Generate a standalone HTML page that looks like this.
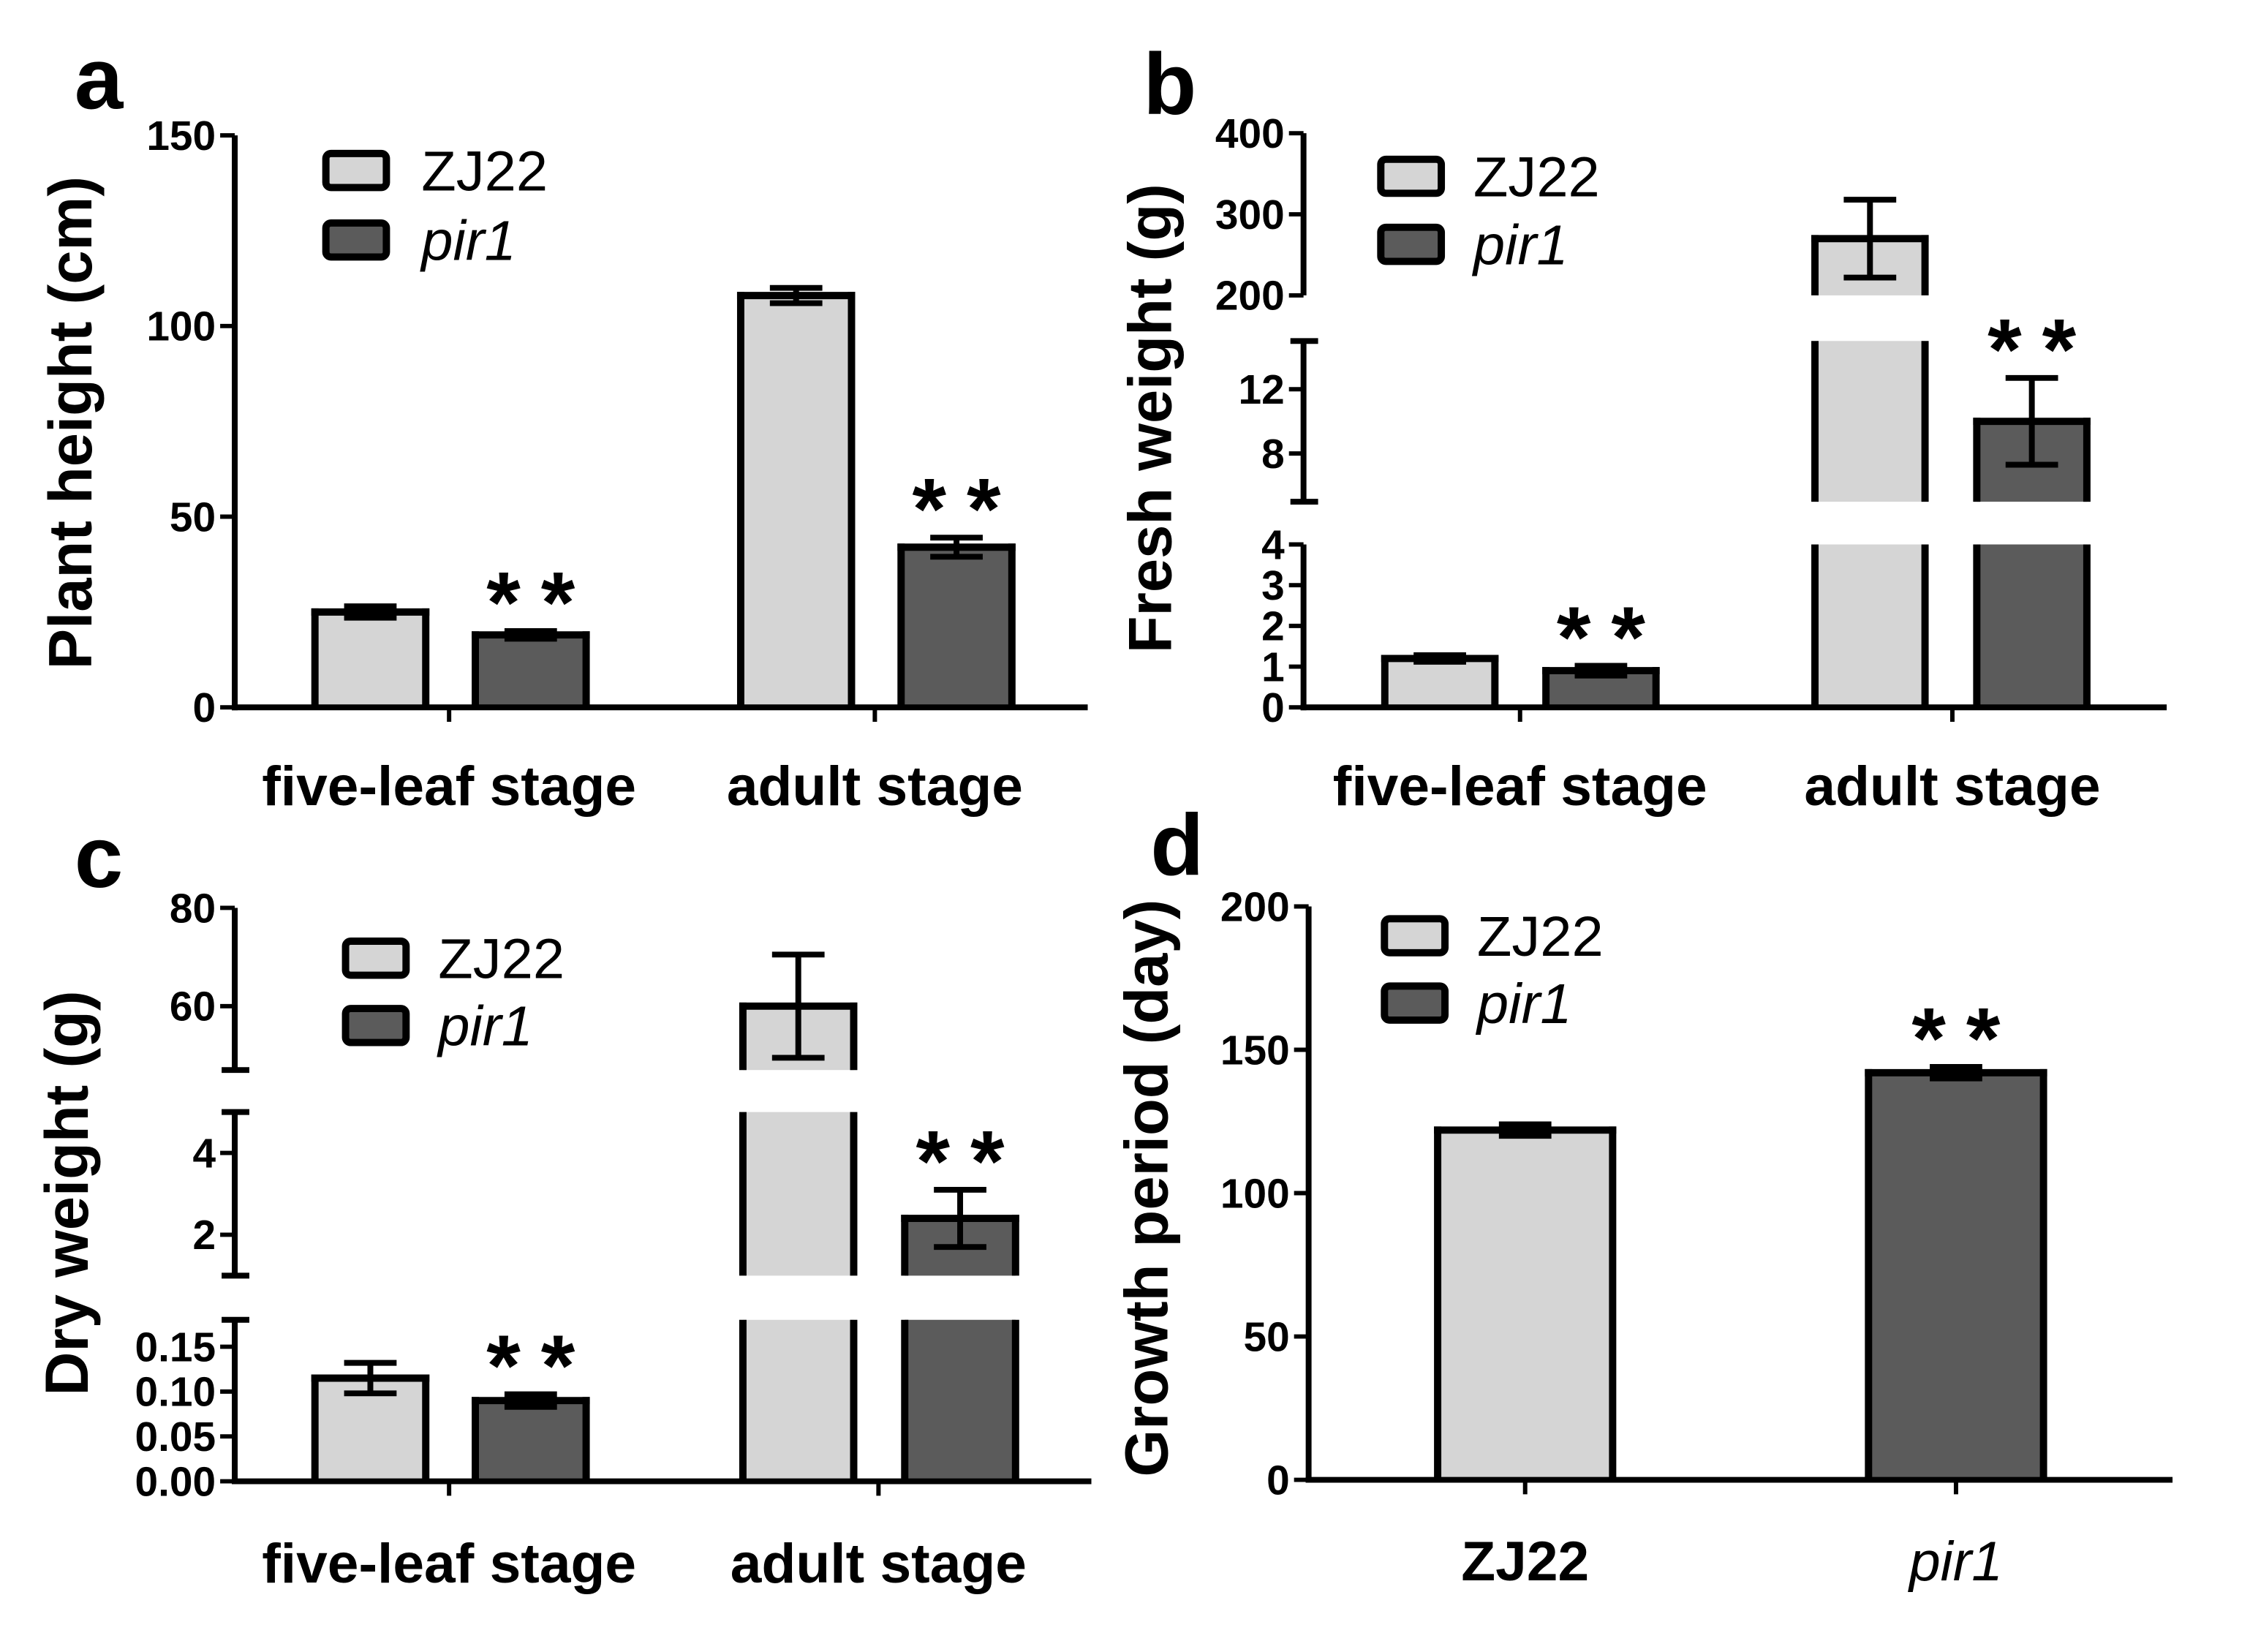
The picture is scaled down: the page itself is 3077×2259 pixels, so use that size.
<!DOCTYPE html>
<html><head><meta charset="utf-8"><style>
html,body{margin:0;padding:0;background:#fff;}
svg{display:block;font-family:"Liberation Sans",Arial,sans-serif;}
</style></head><body>
<svg id="fig" width="3077" height="2259" viewBox="0 0 3077 2259" xmlns="http://www.w3.org/2000/svg"><g id="root" transform="scale(0.997,0.99)"></g></svg>
<script>
// ---- data ----
const catsStage = ["five-leaf stage", "adult stage"];
const catsGeno = ["ZJ22", "pir1"];
const seriesNames = ["ZJ22", "pir1"];
// panel a: plant height (cm)
const aZJ22 = [25, 108];
const aPir1 = [19, 42];
const aZJ22Err = [1.5, 2];
const aPir1Err = [1, 2.5];
const aTicks = [0, 50, 100, 150];
const aTickLabels = ["0", "50", "100", "150"];
// panel b: fresh weight (g)
const bZJ22 = [1.2, 270];
const bPir1 = [0.9, 10];
const bZJ22Err = [0.08, 48];
const bPir1Err = [0.12, 2.7];
const bTicks = [0, 1, 2, 3, 4, 8, 12, 200, 300, 400];
const bTickLabels = ["0", "1", "2", "3", "4", "8", "12", "200", "300", "400"];
// panel c: dry weight (g)
const cZJ22 = [0.115, 60];
const cPir1 = [0.09, 2.4];
const cZJ22Err = [0.017, 10.5];
const cPir1Err = [0.007, 0.7];
const cTicks = [0, 0.05, 0.10, 0.15, 2, 4, 60, 80];
const cTickLabels = ["0.00", "0.05", "0.10", "0.15", "2", "4", "60", "80"];
// panel d: growth period (day)
const dValues = [122, 142];
const dErr = [2, 2];
const dTicks = [0, 50, 100, 150, 200];
const dTickLabels = ["0", "50", "100", "150", "200"];
// significance flags
const aSig = [false, true, false, true];
const dSig = [false, true];

const NS = "http://www.w3.org/2000/svg";
const svg = document.getElementById("root");
const LIGHT = "#d5d5d5", DARK = "#5b5b5b";

function mk(tag, attrs, parent) {
  const e = document.createElementNS(NS, tag);
  for (const k in attrs) e.setAttribute(k, attrs[k]);
  (parent || svg).appendChild(e);
  return e;
}
function line(g, x1, y1, x2, y2, w) {
  return mk("line", {x1, y1, x2, y2, stroke: "#000", "stroke-width": w}, g);
}
function ctext(g, str, x, y, size, opts) {
  opts = opts || {};
  const t = mk("text", {
    x: 0, y: 0, "font-size": size,
    "font-weight": opts.bold ? "bold" : "normal",
    "font-style": opts.italic ? "italic" : "normal",
    "text-anchor": opts.anchor || "start",
    transform: `translate(${x},${y})` + (opts.rot ? ` rotate(${opts.rot})` : "")
  }, g);
  if (opts.ls) t.setAttribute("letter-spacing", opts.ls);
  if (opts.db) t.setAttribute("dominant-baseline", opts.db);
  t.textContent = str;
  return t;
}

function makeY(segs) {
  return function (v) {
    for (const s of segs) {
      if (v >= s.lo - 1e-9 && v <= s.hi + 1e-9) return s.y0 + (v - s.lo) / (s.hi - s.lo) * (s.y1 - s.y0);
    }
    const s = v < segs[0].lo ? segs[0] : segs[segs.length - 1];
    return s.y0 + (v - s.lo) / (s.hi - s.lo) * (s.y1 - s.y0);
  };
}

function panel(p) {
  const g = mk("g", {});
  
  
  const y = makeY(p.segs);
  p.bars.forEach((b, i) => {
    const bg = mk("g", {}, g);
    
    
    const xl = b.cx - p.bw / 2, xr = b.cx + p.bw / 2;
    p.segs.forEach(s => {
      if (b.v <= s.lo) return;
      const top = Math.min(b.v, s.hi);
      const yb = y(s.lo), yt = y(top);
      mk("rect", {x: xl, y: yt, width: p.bw, height: yb - yt, fill: b.fill}, bg);
      line(bg, xl, yb, xl, yt - (b.v <= s.hi ? 5 : 0), 10);
      line(bg, xr, yb, xr, yt - (b.v <= s.hi ? 5 : 0), 10);
      if (b.v <= s.hi) line(bg, xl - 5, yt, xr + 5, yt, 10);
    });
    const eg = mk("g", {}, g);
    
    
    const yt = y(b.v + b.e), ybt = y(b.v - b.e);
    line(eg, b.cx, yt, b.cx, ybt, 8);
    line(eg, b.cx - 36, yt, b.cx + 36, yt, 8);
    line(eg, b.cx - 36, ybt, b.cx + 36, ybt, 8);
    if (b.sig) {
      const st = ctext(g, "**", b.cx + 14, yt + 2, 120, {bold: true, anchor: "middle", ls: 28});
      
      
    }
  });
  const ax = mk("g", {}, g);
  
  
  p.segs.forEach((s, si) => {
    const yb = y(s.lo), yt = y(s.hi);
    line(ax, p.ax, yb + (si === 0 ? 4 : 0), p.ax, yt, 8);
    if (si > 0 && !p.ticks.includes(s.lo)) line(ax, p.ax - 18, yb, p.ax + 20, yb, 8);
    if (!p.ticks.includes(s.hi)) line(ax, p.ax - 18, yt, p.ax + 20, yt, 8);
  });
  p.ticks.forEach((t, i) => {
    const ty = y(t);
    line(ax, p.ax - 20, ty, p.ax, ty, 6);
    const tl = ctext(ax, p.tickLabels[i], p.ax - 26, ty + 20, 57, {bold: true, anchor: "end"});
    
    
  });
  const xa = mk("g", {}, g);
  
  
  const y0 = y(0);
  line(xa, p.ax - 4, y0, p.xEnd, y0, 8);
  p.cats.forEach((c, i) => {
    line(xa, p.catX[i], y0, p.catX[i], y0 + 20, 6);
    const italic = c === "pir1";
    const cl = ctext(xa, c, p.catX[i], p.catBase, 77, {bold: !italic, italic, anchor: "middle"});
    
    
  });
  const yt = ctext(g, p.ytitle, p.tx, p.ty, 84, {bold: true, anchor: "middle", rot: -90, db: "central"});
  
  
  const pl = ctext(g, p.letter, p.lx, p.ly, 120, {bold: true});
  
  
  const lg = mk("g", {}, g);
  
  
  [[LIGHT, seriesNames[0], false], [DARK, seriesNames[1], true]].forEach((L, i) => {
    const en = mk("g", {}, lg);
    
    
    const by = p.leg.y[i];
    mk("rect", {x: p.leg.x + 5, y: by + 5, width: 83, height: 47, rx: 7, fill: L[0], stroke: "#000", "stroke-width": 10}, en);
    ctext(en, L[1], p.leg.tx, by + 56, 78, {italic: L[2]});
  });
}

const bwA = 152;
panel({
  name: "panel-a-plant-height", letter: "a", lx: 102, ly: 150,
  ax: 322, xEnd: 1492, bw: bwA,
  segs: [{lo: 0, hi: 150, y0: 977, y1: 187}],
  ticks: aTicks, tickLabels: aTickLabels,
  cats: catsStage, catX: [616, 1200], catBase: 1112,
  ytitle: "Plant height (cm)", tx: 96, ty: 584,
  leg: {x: 442, y: [207, 303], tx: 578},
  bars: [
    {name: "bar-a-zj22-five-leaf", cx: 616 - 108, v: aZJ22[0], e: aZJ22Err[0], fill: LIGHT, sig: aSig[0]},
    {name: "bar-a-pir1-five-leaf", cx: 616 + 112, v: aPir1[0], e: aPir1Err[0], fill: DARK, sig: aSig[1]},
    {name: "bar-a-zj22-adult", cx: 1200 - 108, v: aZJ22[1], e: aZJ22Err[1], fill: LIGHT, sig: aSig[2]},
    {name: "bar-a-pir1-adult", cx: 1200 + 112, v: aPir1[1], e: aPir1Err[1], fill: DARK, sig: aSig[3]}
  ]
});
panel({
  name: "panel-b-fresh-weight", letter: "b", lx: 1568, ly: 157,
  ax: 1788, xEnd: 2972, bw: 151,
  segs: [{lo: 0, hi: 4, y0: 977, y1: 752}, {lo: 5, hi: 15, y0: 693, y1: 471}, {lo: 200, hi: 400, y0: 408, y1: 184}],
  ticks: bTicks, tickLabels: bTickLabels,
  cats: catsStage, catX: [2085, 2678], catBase: 1112,
  ytitle: "Fresh weight (g)", tx: 1577, ty: 578,
  leg: {x: 1889, y: [215, 309], tx: 2021},
  bars: [
    {name: "bar-b-zj22-five-leaf", cx: 2085 - 110, v: bZJ22[0], e: bZJ22Err[0], fill: LIGHT, sig: aSig[0]},
    {name: "bar-b-pir1-five-leaf", cx: 2085 + 111, v: bPir1[0], e: bPir1Err[0], fill: DARK, sig: aSig[1]},
    {name: "bar-b-zj22-adult", cx: 2678 - 113, v: bZJ22[1], e: bZJ22Err[1], fill: LIGHT, sig: aSig[2]},
    {name: "bar-b-pir1-adult", cx: 2678 + 109, v: bPir1[1], e: bPir1Err[1], fill: DARK, sig: aSig[3]}
  ]
});
panel({
  name: "panel-c-dry-weight", letter: "c", lx: 102, ly: 1225,
  ax: 322, xEnd: 1497, bw: bwA,
  segs: [{lo: 0, hi: 0.18, y0: 2046, y1: 1823}, {lo: 1, hi: 5, y0: 1762, y1: 1536}, {lo: 47, hi: 80, y0: 1478, y1: 1254}],
  ticks: cTicks, tickLabels: cTickLabels,
  cats: catsStage, catX: [616, 1205], catBase: 2186,
  ytitle: "Dry weight (g)", tx: 91, ty: 1648,
  leg: {x: 469, y: [1295, 1388], tx: 601},
  bars: [
    {name: "bar-c-zj22-five-leaf", cx: 616 - 108, v: cZJ22[0], e: cZJ22Err[0], fill: LIGHT, sig: aSig[0]},
    {name: "bar-c-pir1-five-leaf", cx: 616 + 112, v: cPir1[0], e: cPir1Err[0], fill: DARK, sig: aSig[1]},
    {name: "bar-c-zj22-adult", cx: 1205 - 110, v: cZJ22[1], e: cZJ22Err[1], fill: LIGHT, sig: aSig[2]},
    {name: "bar-c-pir1-adult", cx: 1205 + 112, v: cPir1[1], e: cPir1Err[1], fill: DARK, sig: aSig[3]}
  ]
});
panel({
  name: "panel-d-growth-period", letter: "d", lx: 1578, ly: 1208,
  ax: 1795, xEnd: 2980, bw: 240,
  segs: [{lo: 0, hi: 200, y0: 2044, y1: 1252}],
  ticks: dTicks, tickLabels: dTickLabels,
  cats: catsGeno, catX: [2092, 2683], catBase: 2183,
  ytitle: "Growth period (day)", tx: 1572, ty: 1641,
  leg: {x: 1894, y: [1264, 1357], tx: 2026},
  bars: [
    {name: "bar-d-zj22", cx: 2092, v: dValues[0], e: dErr[0], fill: LIGHT, sig: dSig[0]},
    {name: "bar-d-pir1", cx: 2683, v: dValues[1], e: dErr[1], fill: DARK, sig: dSig[1]}
  ]
});
</script>
</body></html>
